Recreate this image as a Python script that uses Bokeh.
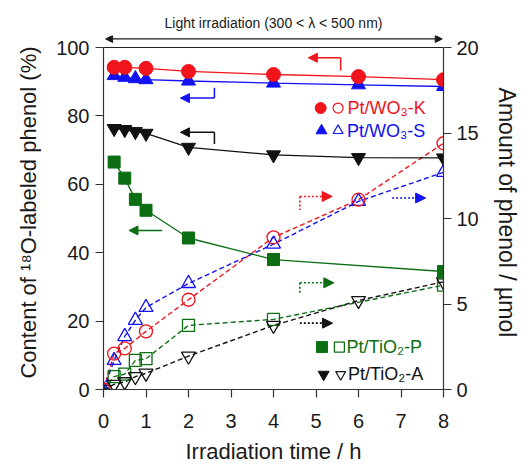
from bokeh.plotting import figure
from bokeh.layouts import column
from bokeh.models import (Range1d, LinearAxis, Label, Arrow, NormalHead,
                          FixedTicker, Span)
from bokeh.embed import file_html
from bokeh.resources import INLINE

FONT = "Liberation Sans"
RED = "#f0141c"
BLUE = "#1212f0"
GREEN = "#0b6e12"
BLACK = "#111111"
INK = "#1a1a1a"

# ---------------- data ----------------
# content of 18O-labeled phenol (%) -> left axis
t_K = [0.25, 0.5, 1, 2, 4, 6, 8]
content_K = [94.2, 94.2, 93.9, 93.0, 92.1, 91.5, 90.6]
t_S = [0.25, 0.5, 0.75, 1, 2, 4, 6, 8]
content_S = [91.8, 91.3, 90.9, 90.6, 90.2, 89.6, 89.1, 88.6]
t_A = [0.25, 0.5, 0.75, 1, 2, 4, 6, 8]
content_A = [76.3, 76.0, 75.4, 74.9, 70.8, 68.6, 67.8, 67.7]
t_P = [0.25, 0.5, 0.75, 1, 2, 4, 8]
content_P = [66.5, 61.8, 55.6, 52.4, 44.3, 38.0, 34.5]

# amount of phenol (umol) -> right axis
ta_K = [0, 0.25, 0.5, 1, 2, 4, 6, 8]
amount_K = [0, 2.1, 2.4, 3.4, 5.25, 8.9, 11.1, 14.4]
ta_S = [0, 0.25, 0.5, 0.75, 1, 2, 4, 6, 8]
amount_S = [0, 1.7, 3.1, 4.05, 4.8, 6.2, 8.5, 11.0, 12.7]
ta_P = [0, 0.25, 0.5, 0.75, 1, 2, 4, 8]
amount_P = [0, 0.75, 0.9, 1.7, 1.8, 3.75, 4.1, 6.1]
ta_A = [0, 0.25, 0.5, 0.75, 1, 2, 4, 6, 8]
amount_A = [0, 0.3, 0.45, 0.75, 0.95, 1.95, 3.75, 5.2, 6.3]

x_ticks = [0, 1, 2, 3, 4, 5, 6, 7, 8]
left_ticks = [0, 20, 40, 60, 80, 100]
right_ticks = [0, 5, 10, 15, 20]

series_names = ["Pt/WO\u2083-K", "Pt/WO\u2083-S", "Pt/TiO\u2082-P", "Pt/TiO\u2082-A"]


def strip(height):
    f = figure(width=526, height=height, output_backend="svg", toolbar_location=None,
               x_range=Range1d(0, 8), y_range=Range1d(0, 1),
               x_axis_type=None, y_axis_type=None,
               min_border_left=103, min_border_right=83,
               min_border_top=0, min_border_bottom=0)
    f.grid.visible = False
    f.outline_line_color = None
    return f

# ---------------- header strip ----------------
head = strip(35)
head.add_layout(Label(x=4.0, y=0.343, text="Light irradiation (300 < \u03bb < 500 nm)",
                      text_font=FONT, text_font_size="14px", text_color=INK,
                      text_align="center", text_baseline="middle"))

# ---------------- main figure ----------------
# frame reaches a little above 100 % so that the double arrow fits inside it;
# the axes themselves stop at 100 % / 20 umol
p = figure(width=526, height=403, output_backend="svg", toolbar_location=None,
           x_range=Range1d(0, 8), y_range=Range1d(0, 103.51),
           min_border_left=103, min_border_right=83,
           min_border_top=0, min_border_bottom=49)
p.extra_y_ranges = {"amt": Range1d(0, 20.702)}
p.grid.visible = False
p.outline_line_color = None
p.background_fill_color = "white"
p.border_fill_color = "white"

right_axis = LinearAxis(y_range_name="amt")
p.add_layout(right_axis, "right")

p.xaxis.ticker = FixedTicker(ticks=x_ticks)
p.yaxis[0].ticker = FixedTicker(ticks=left_ticks)
right_axis.ticker = FixedTicker(ticks=right_ticks)
p.yaxis[0].bounds = (0, 100)
right_axis.bounds = (0, 20)

p.yaxis[0].axis_label = "Content of \u00b9\u2078O-labeled phenol (%)"
right_axis.axis_label = "Amount of phenol / \u00b5mol"

for ax in [p.xaxis[0], p.yaxis[0], right_axis]:
    ax.axis_line_color = "#333333"
    ax.axis_line_width = 1.2
    ax.major_tick_line_color = "#333333"
    ax.major_tick_line_width = 1.2
    ax.major_tick_out = 8
    ax.major_tick_in = 0
    ax.minor_tick_line_color = None
    ax.major_label_text_font = FONT
    ax.major_label_text_font_size = "20px"
    ax.major_label_text_color = INK
    ax.axis_label_text_font = FONT
    ax.axis_label_text_font_size = "22px"
    ax.axis_label_text_font_style = "normal"
    ax.axis_label_text_color = INK

right_axis.axis_label_text_font_size = "23px"

p.xaxis.major_label_standoff = 16
p.yaxis[0].major_label_standoff = 6
p.yaxis[0].axis_label_standoff = 12
right_axis.major_label_standoff = 5
right_axis.axis_label_standoff = 12

# top border of the box
p.add_layout(Span(location=100, dimension="width", line_color="#222222",
                  line_width=1.2))

# light irradiation double arrow
p.add_layout(Arrow(x_start=0.05, y_start=102.5, x_end=7.97, y_end=102.5,
                   line_color=INK, line_width=1.3,
                   start=NormalHead(size=7, fill_color=INK, line_color=INK),
                   end=NormalHead(size=7, fill_color=INK, line_color=INK)))

# ---------------- dashed amount lines ----------------
dash = "5 3"
p.line(ta_K, amount_K, y_range_name="amt", line_color=RED, line_dash=dash, line_width=1.4)
p.line(ta_S, amount_S, y_range_name="amt", line_color=BLUE, line_dash=dash, line_width=1.4)
p.line(ta_P, amount_P, y_range_name="amt", line_color=GREEN, line_dash=dash, line_width=1.4)
p.line(ta_A, amount_A, y_range_name="amt", line_color=BLACK, line_dash=dash, line_width=1.4)

# ---------------- solid content lines ----------------
p.line(t_K, content_K, line_color=RED, line_width=1.3)
p.line(t_S, content_S, line_color=BLUE, line_width=1.3)
p.line(t_A, content_A, line_color=BLACK, line_width=1.3)
p.line(t_P, content_P, line_color=GREEN, line_width=1.3)

# ---------------- markers ----------------
p.scatter(ta_P, amount_P, y_range_name="amt", marker="square", size=12,
          line_color=GREEN, fill_color=None, line_width=1.3)
p.scatter(ta_A, amount_A, y_range_name="amt", marker="inverted_triangle", size=14,
          line_color=BLACK, fill_color=None, line_width=1.3)
p.scatter(ta_S, amount_S, y_range_name="amt", marker="triangle", size=14,
          line_color=BLUE, fill_color=None, line_width=1.3)
p.scatter(ta_K, amount_K, y_range_name="amt", marker="circle", size=13,
          line_color=RED, fill_color=None, line_width=1.3)

p.scatter(t_S, content_S, marker="triangle", size=14, color=BLUE)
p.scatter(t_K, content_K, marker="circle", size=14, color=RED)
p.scatter(t_A, content_A, marker="inverted_triangle", size=14, color=BLACK)
p.scatter(t_P, content_P, marker="square", size=12, color=GREEN)

# ---------------- axis-pointing arrows ----------------
def solid_arrow(color, hx, hy, cx, cy, tx=None, ty=None):
    p.add_layout(Arrow(x_start=cx, y_start=cy, x_end=hx, y_end=hy,
                       line_color=color, line_width=1.5,
                       end=NormalHead(size=9, fill_color=color, line_color=color)))
    if tx is not None:
        p.line([cx, tx], [cy, ty], line_color=color, line_width=1.5)

def dotted_arrow(color, hx, hy, cx, cy, tx=None, ty=None):
    p.add_layout(Arrow(x_start=cx, y_start=cy, x_end=hx, y_end=hy,
                       line_color=color, line_width=1.6, line_dash="2 2",
                       y_range_name="amt",
                       end=NormalHead(size=10, fill_color=color, line_color=color)))
    if tx is not None:
        p.line([cx, tx], [cy, ty], line_color=color, line_width=1.6,
               line_dash="2 2", y_range_name="amt")

solid_arrow(RED, 4.82, 97.0, 5.58, 97.0, 5.58, 93.3)
solid_arrow(BLUE, 1.81, 85.2, 2.61, 85.2, 2.61, 88.2)
solid_arrow(BLACK, 1.81, 75.2, 2.61, 75.2, 2.61, 71.8)
solid_arrow(GREEN, 0.6, 46.5, 1.38, 46.5)

dotted_arrow(RED, 5.38, 11.29, 4.62, 11.29, 4.62, 10.5)
dotted_arrow(BLUE, 7.58, 11.2, 6.79, 11.2)
dotted_arrow(GREEN, 5.42, 6.24, 4.62, 6.24, 4.62, 5.55)
dotted_arrow(BLACK, 5.39, 3.88, 4.62, 3.88)

# ---------------- in-plot legend ----------------
leg_y = [82.3, 75.7, 12.4, 4.4]
leg_colors = [RED, BLUE, GREEN, BLACK]
leg_markers = ["circle", "triangle", "square", "inverted_triangle"]
leg_fx = [5.11, 5.13, 5.14, 5.18]
leg_ox = [5.52, 5.52, 5.55, 5.58]
leg_tx = [5.74, 5.73, 5.72, 5.75]
for i in range(4):
    p.scatter([leg_fx[i]], [leg_y[i]], marker=leg_markers[i], size=11,
              color=leg_colors[i])
    p.scatter([leg_ox[i]], [leg_y[i]], marker=leg_markers[i], size=10,
              line_color=leg_colors[i], fill_color=None, line_width=1.2)
    p.add_layout(Label(x=leg_tx[i], y=leg_y[i], text=series_names[i],
                       text_color=leg_colors[i], text_font=FONT,
                       text_font_size="18px", text_baseline="middle",
                       text_align="left"))

# ---------------- footer strip (x-axis title) ----------------
foot = strip(27)
foot.add_layout(Label(x=4.0, y=0.52, text="Irradiation time / h",
                      text_font=FONT, text_font_size="22px", text_color=INK,
                      text_align="center", text_baseline="middle"))

layout = column(head, p, foot, spacing=0)
open("out.html", "w").write(file_html(layout, INLINE))
